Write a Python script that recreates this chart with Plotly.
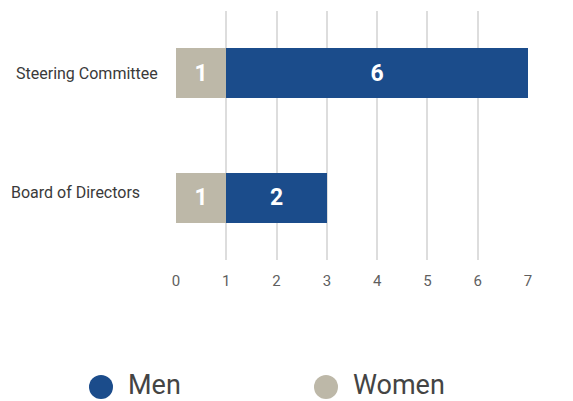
import plotly.graph_objects as go

# Board membership by gender
categories = ["Steering Committee", "Board of Directors"]
women = [1, 1]
men = [6, 2]
x_ticks = [0, 1, 2, 3, 4, 5, 6, 7]

MEN_COLOR = "#1b4c8b"
WOMEN_COLOR = "#bdb8a8"
FONT = "Roboto"

fig = go.Figure()
fig.add_trace(go.Bar(
    y=categories, x=women, name="Women", orientation="h",
    marker=dict(color=WOMEN_COLOR, line=dict(width=0)),
    text=women, textposition="inside", insidetextanchor="middle",
    textfont=dict(family=FONT, size=23, color="white", weight="bold"),
    width=0.4, showlegend=False,
))
fig.add_trace(go.Bar(
    y=categories, x=men, name="Men", orientation="h",
    marker=dict(color=MEN_COLOR, line=dict(width=0)),
    text=men, textposition="inside", insidetextanchor="middle",
    textfont=dict(family=FONT, size=23, color="white", weight="bold"),
    width=0.4, showlegend=False,
))

# left-aligned category labels
label_shift = {"Steering Committee": (14, 0), "Board of Directors": (9, 5)}
annotations = []
for cat in categories:
    dx, dy = label_shift[cat]
    annotations.append(dict(
        xref="paper", yref="y", x=0, y=cat, xanchor="left", yanchor="middle",
        xshift=dx - 176, yshift=dy, text=cat, showarrow=False,
        font=dict(family=FONT, size=16, color="#3a3a3a"),
    ))

# custom legend with large round swatches
legend_items = [("Men", MEN_COLOR), ("Women", WOMEN_COLOR)]
legend_x = [101, 326]
shapes = []
for (name, color), px in zip(legend_items, legend_x):
    shapes.append(dict(
        type="circle", xref="paper", yref="paper",
        xsizemode="pixel", ysizemode="pixel",
        xanchor=(px - 176) / 352, yanchor=(260 - 387) / 249,
        x0=-12, x1=12, y0=-12, y1=12,
        fillcolor=color, line=dict(width=0),
    ))
    annotations.append(dict(
        xref="paper", yref="paper", x=(px + 26 - 176) / 352, y=(260 - 385) / 249,
        xanchor="left", yanchor="middle", borderpad=0,
        text=name, showarrow=False,
        font=dict(family=FONT, size=27, color="#444444"),
    ))

fig.update_layout(
    barmode="stack",
    width=573, height=401,
    margin=dict(l=176, r=45, t=11, b=141),
    paper_bgcolor="white", plot_bgcolor="white",
    xaxis=dict(
        range=[0, 7], tickvals=x_ticks, showgrid=True, gridcolor="#dddddd",
        gridwidth=1.5, zeroline=False, showline=False, ticklabelstandoff=10,
        tickfont=dict(family=FONT, size=15, color="#5f5f5f"),
        fixedrange=True,
    ),
    yaxis=dict(
        categoryorder="array", categoryarray=categories[::-1],
        range=[-0.5, 1.5], showticklabels=False, showgrid=False,
        zeroline=False, fixedrange=True,
    ),
    annotations=annotations,
    shapes=shapes,
    showlegend=False,
)

fig.write_html("out.html")
